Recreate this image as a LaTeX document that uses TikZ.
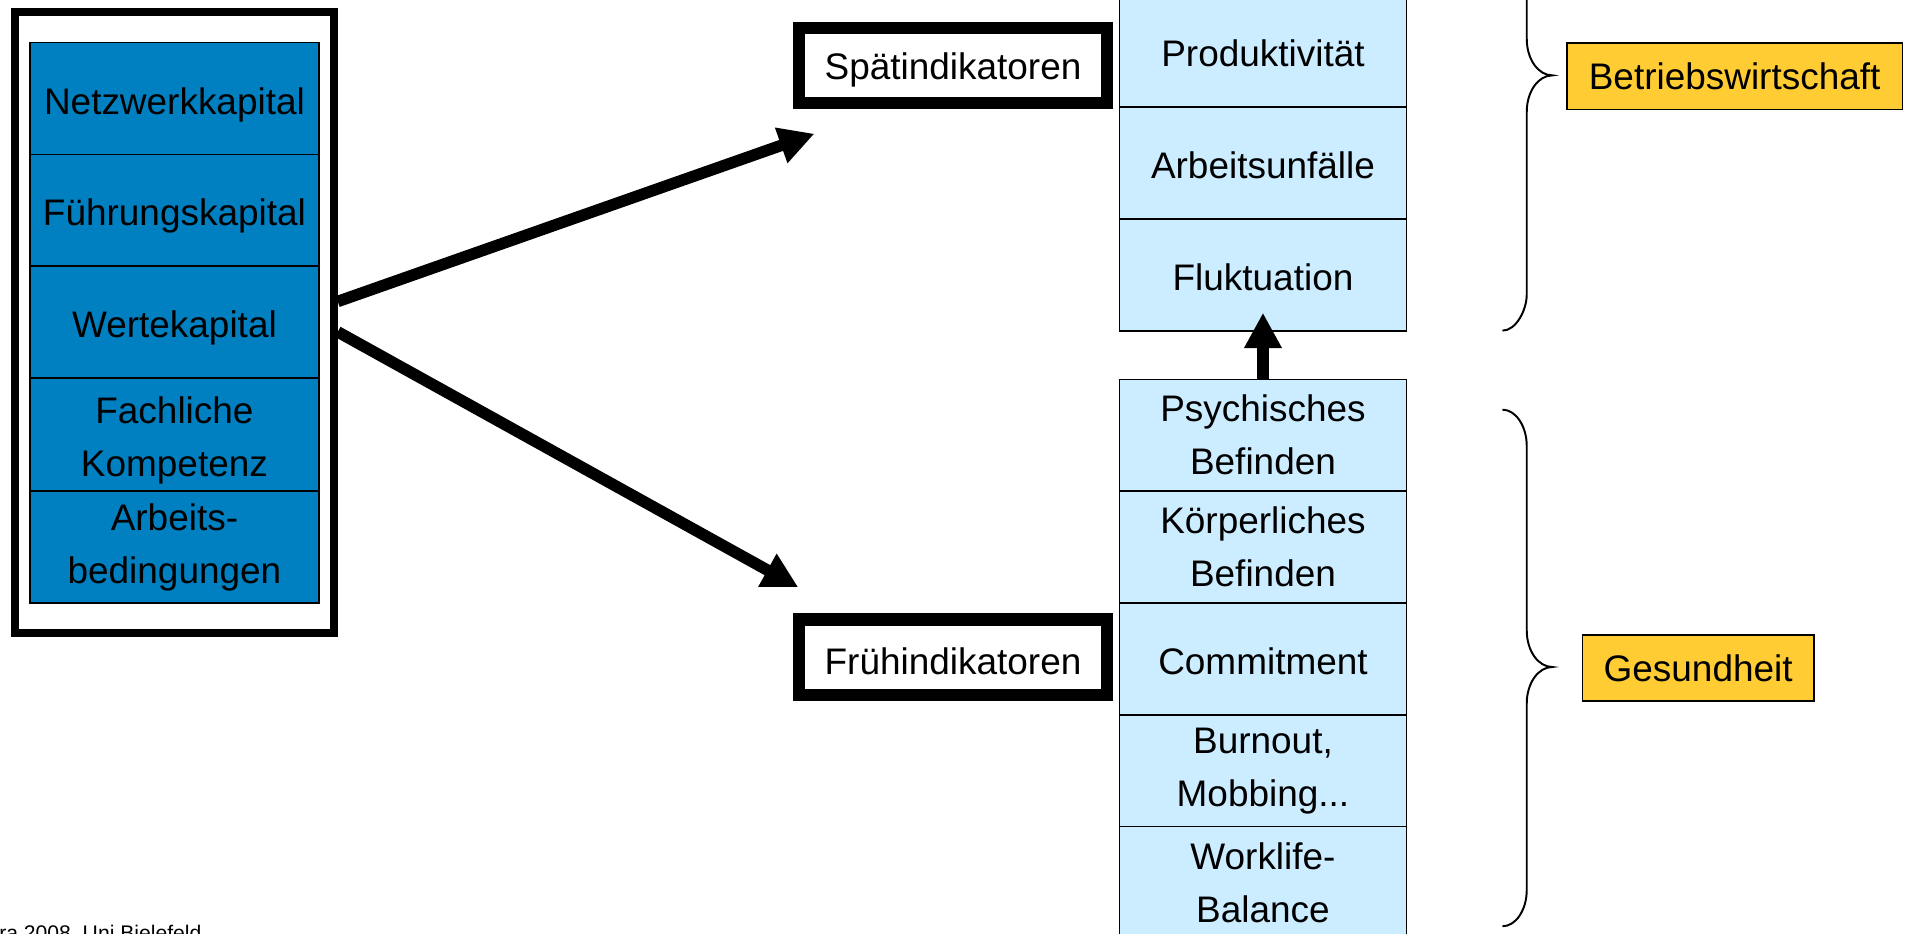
\documentclass[tikz,border=0pt]{standalone}
\usepackage{fontspec}
\setmainfont{Liberation Sans}
\usetikzlibrary{arrows.meta}
\definecolor{kapblau}{RGB}{0,128,192}
\definecolor{indblau}{RGB}{204,236,255}
\definecolor{gelb}{RGB}{255,204,51}

\begin{document}
\begin{tikzpicture}[x=0.5pt,y=-0.5pt,
  every node/.style={font=\fontsize{15.2pt}{21.8pt}\selectfont, align=center, inner sep=0pt},
  kap/.style={draw, line width=0.6pt, fill=kapblau, minimum width=118.9pt, minimum height=46pt,
    execute at begin node={\rule{0pt}{16pt}}},
  ind/.style={draw, line width=0.6pt, fill=indblau, minimum width=118pt, minimum height=46pt,
    execute at begin node={\rule{0pt}{13pt}}},
  rahmen/.style={draw, line width=5pt, minimum width=127pt, minimum height=30.9pt,
    execute at begin node={\rule{0pt}{14.5pt}}},
  feld/.style={draw, line width=0.6pt, fill=gelb, minimum height=27.25pt},
  klammer/.style={line width=0.8pt},
  pfeil/.style={line width=4.75pt, -{Triangle[length=14.5pt,width=14.5pt]}}]
\useasboundingbox (0,0) rectangle (1568,768);
% Kapitalarten
\node[draw, line width=3.15pt, minimum width=131.3pt, minimum height=255.5pt] (kapital) at (143.4,265.1) {};
\node[kap] (netz) at (143.5,81) {Netzwerkkapital};
\node[kap] (fuehr) at (143.5,173) {Führungskapital};
\node[kap] (werte) at (143.5,265) {Wertekapital};
\node[kap] (fach) at (143.5,357.5) {\rule{0pt}{16pt}Fachliche\\Kompetenz};
\node[kap] (arbeit) at (143.5,450) {Arbeits-\\bedingungen};
% Indikatoren
\node[rahmen] (spaet) at (784,53.7) {Spätindikatoren};
\node[rahmen] (frueh) at (784,540.5) {Frühindikatoren};
\node[ind] (prod) at (1039,42) {Produktivität};
\node[ind] (unfall) at (1039,134) {Arbeitsunfälle};
\node[ind] (fluk) at (1039,226.3) {Fluktuation};
\node[ind] (psych) at (1039,358) {Psychisches\\Befinden};
\node[ind] (koerp) at (1039,450) {Körperliches\\Befinden};
\node[ind] (commit) at (1039,542) {Commitment};
\node[ind] (burn) at (1039,634) {Burnout,\\Mobbing...};
\node[ind] (work) at (1039,726) {Worklife-\\Balance};
% Bereiche
\node[feld, minimum width=138pt] (bwl) at (1427,62.6) {Betriebswirtschaft};
\node[feld, minimum width=95.25pt] (gesund) at (1397,549.5) {Gesundheit};
\node[anchor=base west, font=\fontsize{8.7pt}{10pt}\selectfont] (quelle) at (-1,773.5) {ra 2008, Uni Bielefeld};
\coordinate (spaetziel) at (670,110);
\coordinate (fruehziel) at (656.7,483.1);
\path[pfeil]
([yshift=8.55pt]kapital.east) edge (spaetziel)
([yshift=-3.95pt]kapital.east) edge (fruehziel)
(psych.north) edge ([yshift=7.8pt]fluk.south);
% Klammern
\draw[klammer] (1236,272) .. controls (1247,272) and (1256,255.4) .. (1256,242)
  -- (1256,92) .. controls (1256,75.4) and (1265.4,62) .. (1277,62)
  .. controls (1265.4,62) and (1256,48.6) .. (1256,32) -- (1256,-20);
\draw[klammer] (1236,337) .. controls (1247,337) and (1256,350.6) .. (1256,367)
  -- (1256,518.7) .. controls (1256,535.3) and (1265.4,548.7) .. (1277,548.7)
  .. controls (1265.4,548.7) and (1256,562.1) .. (1256,578.7)
  -- (1256,732) .. controls (1256,748.6) and (1247,762) .. (1236,762);
\end{tikzpicture}
\end{document}
